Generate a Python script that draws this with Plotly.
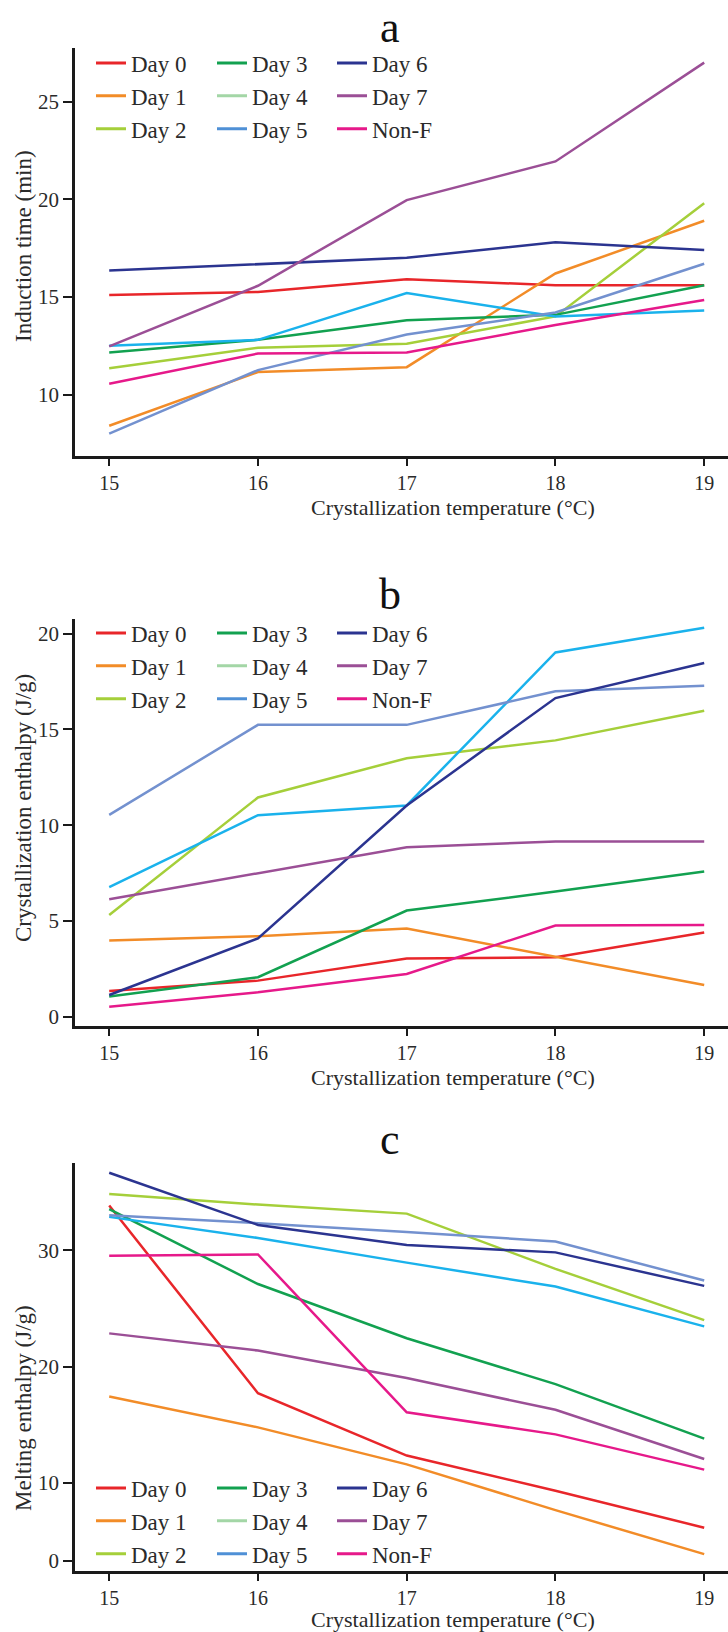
import plotly.graph_objects as go

temps = [15, 16, 17, 18, 19]
series_names = ["Day 0", "Day 1", "Day 2", "Day 3", "Day 4", "Day 5", "Day 6", "Day 7", "Non-F"]

line_colors = ["#e8262a", "#f28c28", "#a5cf3a", "#12a150", "#1ab2ec", "#7391cf", "#2b3490", "#9b4f96", "#e6198a"]
legend_colors = ["#e8262a", "#f28c28", "#a5cf3a", "#12a150", "#a3d6a6", "#4f90d6", "#2b3490", "#9b4f96", "#e6198a"]

# Panel a: induction time (min)
induction = {
    "Day 0": [15.1, 15.25, 15.9, 15.6, 15.6],
    "Day 1": [8.4, 11.15, 11.4, 16.2, 18.9],
    "Day 2": [11.35, 12.4, 12.6, 14.0, 19.8],
    "Day 3": [12.15, 12.8, 13.8, 14.08, 15.6],
    "Day 4": [12.5, 12.8, 15.2, 14.0, 14.3],
    "Day 5": [8.0, 11.25, 13.07, 14.2, 16.7],
    "Day 6": [16.35, 16.67, 17.0, 17.8, 17.4],
    "Day 7": [12.47, 15.57, 19.96, 21.94, 27.0],
    "Non-F": [10.55, 12.1, 12.15, 13.56, 14.84],
}
# Panel b: crystallization enthalpy (J/g)
cryst = {
    "Day 0": [1.34, 1.88, 3.03, 3.1, 4.39],
    "Day 1": [3.97, 4.2, 4.6, 3.14, 1.65],
    "Day 2": [5.31, 11.45, 13.5, 14.43, 15.98],
    "Day 3": [1.05, 2.06, 5.54, 6.53, 7.58],
    "Day 4": [6.76, 10.52, 11.03, 19.02, 20.31],
    "Day 5": [10.54, 15.24, 15.24, 16.99, 17.28],
    "Day 6": [1.13, 4.09, 11.03, 16.64, 18.47],
    "Day 7": [6.13, 7.49, 8.85, 9.15, 9.15],
    "Non-F": [0.52, 1.27, 2.23, 4.76, 4.79],
}
# Panel c: melting enthalpy (J/g)
melting = {
    "Day 0": [33.84, 17.72, 12.36, 9.33, 6.16],
    "Day 1": [17.44, 14.78, 11.6, 7.67, 3.89],
    "Day 2": [34.84, 33.93, 33.15, 28.4, 24.0],
    "Day 3": [33.54, 27.1, 22.44, 18.5, 13.81],
    "Day 4": [32.87, 31.06, 28.94, 26.88, 23.46],
    "Day 5": [33.0, 32.33, 31.57, 30.76, 27.4],
    "Day 6": [36.66, 32.18, 30.45, 29.82, 26.94],
    "Day 7": [22.86, 21.38, 19.02, 16.29, 12.06],
    "Non-F": [29.52, 29.64, 16.08, 14.18, 11.15],
}

panel_letters = ["a", "b", "c"]
y_titles = ["Induction time (min)", "Crystallization enthalpy (J/g)", "Melting enthalpy (J/g)"]
x_title = "Crystallization temperature (°C)"
yticks_a = [10, 15, 20, 25]
yticks_b = [0, 5, 10, 15, 20]
yticks_c_vals = [3.3, 10, 20, 30]
yticks_c_text = ["0", "10", "20", "30"]
xticks = [15, 16, 17, 18, 19]

W, H = 728, 1632
L = 75
FONT = "Liberation Serif"
TXT = "#2a2a2a"

def py(px):
    return 1 - px / H

def pxx(px):
    return (px - L) / (W - L)

panels = [
    dict(top=48, bot=456, data=induction, yr=[6.85, 27.75], tv=yticks_a, tt=[str(v) for v in yticks_a],
         leg_y=96, title_y=27, xt_y=507, yt_y=246),
    dict(top=619, bot=1026, data=cryst, yr=[-0.49, 20.77], tv=yticks_b, tt=[str(v) for v in yticks_b],
         leg_y=666, title_y=594, xt_y=1077, yt_y=808),
    dict(top=1163, bot=1571, data=melting, yr=[2.44, 37.5], tv=yticks_c_vals, tt=yticks_c_text,
         leg_y=1521, title_y=1139, xt_y=1619, yt_y=1408),
]

fig = go.Figure()
annotations = []
legend_cols = [[0, 1, 2], [3, 4, 5], [6, 7, 8]]
legend_x_px = [91, 212, 332]
layout_update = {}
leg_counter = 0

for pi, p in enumerate(panels):
    xa = "x" if pi == 0 else f"x{pi+1}"
    ya = "y" if pi == 0 else f"y{pi+1}"
    xkey = "xaxis" if pi == 0 else f"xaxis{pi+1}"
    ykey = "yaxis" if pi == 0 else f"yaxis{pi+1}"
    for si, name in enumerate(series_names):
        fig.add_trace(go.Scatter(
            x=temps, y=p["data"][name], mode="lines", name=name,
            line=dict(color=line_colors[si], width=2.5),
            xaxis=xa, yaxis=ya, showlegend=False, hoverinfo="x+y+name"))
    for ci, col in enumerate(legend_cols):
        leg_counter += 1
        lkey = "legend" if leg_counter == 1 else f"legend{leg_counter}"
        for rank, si in enumerate(col):
            fig.add_trace(go.Scatter(
                x=[None], y=[None], mode="lines", name=series_names[si],
                line=dict(color=legend_colors[si], width=3),
                xaxis=xa, yaxis=ya, showlegend=True, legend=lkey, legendrank=rank + 1))
        layout_update[lkey] = dict(
            x=pxx(legend_x_px[ci]), xanchor="left", y=py(p["leg_y"]), yanchor="middle",
            bgcolor="rgba(0,0,0,0)", font=dict(family=FONT, size=23, color=TXT),
            orientation="v", itemwidth=30, tracegroupgap=0)
    layout_update[xkey] = dict(
        domain=[0, 1], anchor=ya, range=[14.77, 19.16], tickvals=xticks, automargin=False,
        showline=True, linecolor="#1a1a1a", linewidth=2.5, ticks="outside", ticklen=7,
        tickwidth=2, tickcolor="#1a1a1a", showgrid=False, zeroline=False,
        tickfont=dict(family=FONT, size=20, color=TXT))
    layout_update[ykey] = dict(
        domain=[py(p["bot"]), py(p["top"])], anchor=xa, range=p["yr"], tickvals=p["tv"],
        ticktext=p["tt"], automargin=False, showline=True, linecolor="#1a1a1a", linewidth=2.5,
        ticks="outside", ticklen=9, tickwidth=2, tickcolor="#1a1a1a", showgrid=False,
        zeroline=False, tickfont=dict(family=FONT, size=21, color=TXT))
    annotations.append(dict(text=panel_letters[pi], x=pxx(390), y=py(p["title_y"]),
                            xref="paper", yref="paper", showarrow=False,
                            xanchor="center", yanchor="middle",
                            font=dict(family=FONT, size=44, color="#111")))
    annotations.append(dict(text=x_title, x=pxx(453), y=py(p["xt_y"]),
                            xref="paper", yref="paper", showarrow=False,
                            xanchor="center", yanchor="middle",
                            font=dict(family=FONT, size=22, color=TXT)))
    annotations.append(dict(text=y_titles[pi], x=pxx(23), y=py(p["yt_y"]),
                            xref="paper", yref="paper", showarrow=False, textangle=-90,
                            xanchor="center", yanchor="middle",
                            font=dict(family=FONT, size=23, color=TXT)))

fig.update_layout(
    width=W, height=H, margin=dict(l=L, r=0, t=0, b=0),
    paper_bgcolor="white", plot_bgcolor="white",
    annotations=annotations, **layout_update)

fig.write_html(
    "out.html",
    config={"displayModeBar": False},
    post_script="document.body.style.margin='0';document.body.style.overflow='hidden';",
)
